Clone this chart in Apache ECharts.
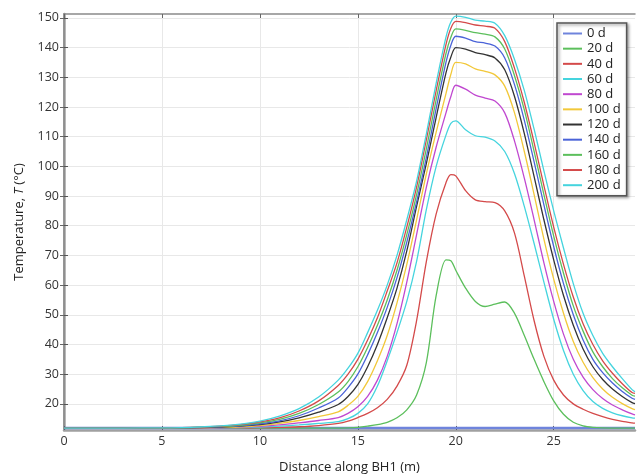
<!DOCTYPE html>
<html>
<head>
<meta charset="utf-8">
<script src="https://cdn.jsdelivr.net/npm/echarts@6/dist/echarts.min.js"></script>
<style>html,body{margin:0;padding:0;background:#fff}#c{width:638px;height:475px}</style>
</head>
<body>
<div id="c"></div>
<script>
// Distance along BH1 (m)
const xs = [0,2,4,6,8,9,10,11,12,13,14,14.5,15,15.5,16,16.5,17,17.5,18,18.5,19,19.5,19.75,20,20.5,21,21.5,22,22.5,23,23.5,24,24.5,25,25.5,26,26.5,27,27.5,28,28.5,29,29.15];
const seriesNames = ['0 d','20 d','40 d','60 d','80 d','100 d','120 d','140 d','160 d','180 d','200 d'];
const xTicks = [0,5,10,15,20,25];
const yTicks = [20,30,40,50,60,70,80,90,100,110,120,130,140,150];

const d0   = [11.9,11.9,11.9,11.9,11.9,11.9,11.9,11.9,11.9,11.9,11.9,11.9,11.9,11.9,11.9,11.9,11.9,11.9,11.9,11.9,11.9,11.9,11.9,11.9,11.9,11.9,11.9,11.9,11.9,11.9,11.9,11.9,11.9,11.9,11.9,11.9,11.9,11.9,11.9,11.9,11.9,11.9,11.9];
const d20  = [11.8,11.8,11.8,11.8,11.8,11.8,11.8,11.8,11.8,11.8,11.8,11.9,12.1,12.5,13.0,13.8,15.3,18.0,23.0,34.0,56.5,68.5,68.2,65.0,59.0,54.5,52.8,53.6,54.3,50.5,43.0,35.0,27.5,21.0,16.5,13.8,12.6,12.1,11.9,11.85,11.8,11.8,11.8];
const d40  = [11.8,11.8,11.8,11.8,11.85,11.9,12.0,12.1,12.3,12.7,13.4,14.2,15.4,16.8,18.7,21.5,26.0,33.0,48.0,68.0,84.0,94.5,97.2,96.8,91.8,88.7,88.1,87.8,85.0,77.5,63.0,48.0,36.0,28.0,23.0,20.0,18.2,16.8,15.7,14.8,14.1,13.6,13.5];
const d60  = [11.8,11.8,11.8,11.8,11.9,12.0,12.2,12.5,12.9,13.4,14.0,15.0,16.8,20.0,26.0,34.5,44.0,54.5,68.0,85.5,100.0,110.5,114.5,115.3,112.3,110.3,109.8,108.5,105.0,97.5,86.5,74.0,61.0,48.5,38.0,30.0,24.5,20.8,18.5,17.0,16.0,15.3,15.2];
const d80  = [11.8,11.8,11.8,11.8,12.0,12.15,12.45,12.9,13.6,14.4,15.4,16.8,19.0,22.5,28.0,36.0,47.0,61.0,77.0,93.0,106.5,118.0,123.5,127.3,126.0,124.0,123.0,122.0,118.0,108.5,96.0,82.0,67.5,54.5,43.5,35.0,29.0,24.8,21.8,19.6,18.0,16.6,16.3];
const d100 = [11.8,11.8,11.8,11.85,12.1,12.3,12.7,13.4,14.4,15.7,17.3,19.5,22.5,27.5,34.5,43.0,54.0,67.0,82.0,97.5,111.5,124.5,131.0,135.0,134.5,132.8,132.0,130.8,127.0,118.0,105.0,90.5,75.5,62.0,50.5,41.0,34.0,28.8,25.0,22.2,20.1,18.4,18.1];
const d120 = [11.8,11.8,11.8,11.9,12.2,12.5,13.0,13.9,15.3,17.2,19.8,22.5,26.5,32.5,40.0,49.0,59.0,71.5,86.5,101.0,116.5,131.5,136.8,140.0,139.5,138.3,137.6,136.5,132.5,123.5,111.0,96.5,82.0,68.5,56.5,46.5,38.5,32.5,28.2,25.0,22.5,20.4,20.1];
const d140 = [11.8,11.8,11.85,11.9,12.3,12.6,13.3,14.3,16.0,18.6,22.0,25.5,30.0,36.5,44.0,52.5,62.5,74.5,88.0,103.0,119.5,135.0,140.8,143.8,143.2,142.0,141.5,140.5,136.5,127.5,115.5,101.5,87.0,73.0,60.5,50.0,41.5,35.0,30.5,27.0,24.2,21.9,21.5];
const d160 = [11.8,11.8,11.85,11.95,12.4,12.8,13.6,14.8,16.8,19.8,24.0,27.5,32.5,39.0,46.5,55.0,65.0,77.0,90.5,106.0,122.5,138.0,143.5,146.3,145.8,145.0,144.5,143.6,139.5,130.5,119.0,105.0,90.5,76.5,64.0,53.0,44.5,37.5,32.5,28.5,25.4,22.9,22.6];
const d180 = [11.8,11.8,11.9,12.0,12.5,13.0,13.9,15.3,17.6,21.0,26.2,30.0,35.0,41.5,49.0,58.0,67.5,79.5,93.0,109.0,125.5,141.0,146.5,148.8,148.4,147.6,147.2,146.5,142.0,133.0,121.5,108.0,93.5,79.5,67.0,56.0,47.0,40.0,34.5,30.3,26.8,23.8,23.5];
const d200 = [11.8,11.8,11.9,12.0,12.6,13.2,14.2,15.9,18.4,22.3,28.0,32.0,37.0,44.0,51.5,60.0,70.0,82.0,95.0,111.0,128.0,143.5,148.6,150.6,150.2,149.2,148.9,148.2,144.0,136.0,125.5,112.5,98.5,85.0,72.5,60.5,50.5,43.0,37.0,32.5,28.5,24.8,24.1];

const allValues = [d0,d20,d40,d60,d80,d100,d120,d140,d160,d180,d200];
const colors = ['#6f84dc','#5cbf5c','#d44a4a','#45d4de','#c048d0','#f2c83a','#333333','#4a63d8','#5cbf5c','#d44a4a','#45d4de'];

const FONT = 'Open Sans';
const series = allValues.map((vals, i) => ({
  name: seriesNames[i],
  type: 'line',
  data: xs.map((x, j) => [x, vals[j]]),
  smooth: 0.3,
  symbol: 'none',
  lineStyle: { width: i === 0 ? 2.5 : 1.3, color: colors[i] },
  itemStyle: { color: colors[i] },
  emphasis: { disabled: true },
  z: 2
}));

const chart = echarts.init(document.getElementById('c'), null, { renderer: 'canvas' });
chart.setOption({
  animation: false,
  backgroundColor: '#fff',
  grid: { left: 64, right: 3, top: 14, bottom: 45, containLabel: false, outerBoundsMode: 'none' },
  xAxis: [{
    type: 'value', min: 0, max: 29.15,
    name: 'Distance along BH1 (m)', nameLocation: 'middle', nameGap: 31,
    nameTextStyle: { fontFamily: FONT, fontSize: 13, color: '#222' },
    axisLine: { show: true, onZero: false, lineStyle: { color: '#a0a0a0', width: 2.5 } },
    axisTick: { show: true, inside: true, length: 4, customValues: xTicks, lineStyle: { color: '#555' } },
    axisLabel: { customValues: xTicks, fontFamily: FONT, fontSize: 12.5, color: '#333', margin: 5 },
    splitLine: { show: true, lineStyle: { color: '#e8e8e8', width: 1 } }
  }, {
    type: 'value', min: 0, max: 29.15, position: 'top',
    axisLine: { show: true, lineStyle: { color: '#8a8a8a', width: 1.5 } },
    axisTick: { show: true, inside: true, length: 4, customValues: xTicks, lineStyle: { color: '#666' } },
    axisLabel: { show: false },
    splitLine: { show: false }
  }],
  yAxis: [{
    type: 'value', min: 11.2, max: 151.3,
    name: 'Temperature, {i|T} (°C)', nameLocation: 'middle', nameGap: 38, nameRotate: 90,
    nameTextStyle: { fontFamily: FONT, fontSize: 13, color: '#222',
      rich: { i: { fontFamily: FONT, fontSize: 13, fontStyle: 'italic', color: '#222' } } },
    axisLine: { show: true, onZero: false, lineStyle: { color: '#a0a0a0', width: 2.5 } },
    axisTick: { show: true, inside: true, length: 4, customValues: yTicks, lineStyle: { color: '#555' } },
    axisLabel: { customValues: yTicks, fontFamily: FONT, fontSize: 12.5, color: '#333', margin: 5 },
    splitLine: { show: true, lineStyle: { color: '#e8e8e8', width: 1 } }
  }, {
    type: 'value', min: 11.2, max: 151.3, position: 'right',
    axisLine: { show: true, lineStyle: { color: '#8a8a8a', width: 1.5 } },
    axisTick: { show: true, inside: true, length: 4, customValues: yTicks, lineStyle: { color: '#666' } },
    axisLabel: { show: false },
    splitLine: { show: false }
  }],
  legend: {
    orient: 'vertical', left: 557, top: 23,
    padding: [4, 6, 4, 6], itemGap: 2.17, itemWidth: 19, itemHeight: 2, itemTextGap: 5,
    icon: 'rect',
    backgroundColor: '#fff', borderColor: '#555', borderWidth: 1.5,
    shadowBlur: 3, shadowColor: 'rgba(0,0,0,0.45)', shadowOffsetX: 1.5, shadowOffsetY: 1.5,
    textStyle: { fontFamily: FONT, fontSize: 13, color: '#222', lineHeight: 13 },
    data: seriesNames,
    selectedMode: false
  },
  series: series
});
</script>
</body>
</html>
